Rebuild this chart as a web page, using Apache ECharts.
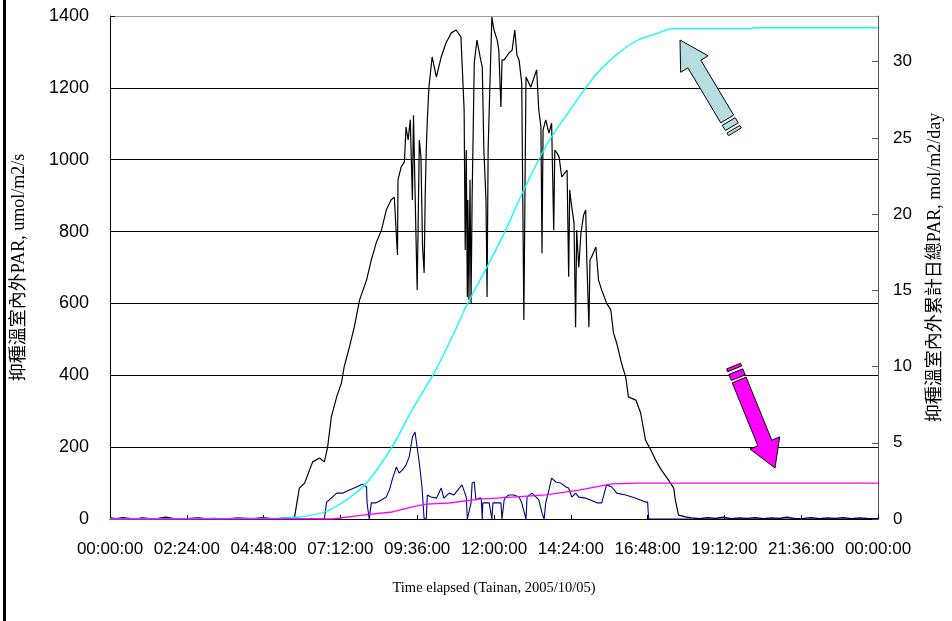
<!DOCTYPE html>
<html>
<head>
<meta charset="utf-8">
<script src="https://cdn.jsdelivr.net/npm/echarts@6/dist/echarts.min.js"></script>
<style>html,body{margin:0;padding:0;background:#fff}#c{width:952px;height:621px}</style>
</head>
<body>
<div id="c"></div>
<script>
// ---- data (time in minutes since 00:00) ----
const outsideT = [0,12,24,36,48,60,75,90,105,120,135,150,165,180,195,210,225,240,255,270,285,300,315,330,340,
346,349,355,365,374,380,393,402,408,415,425,434,439,449,458,468,481,490,499,509,518,527,533,539,540,546,552,555,559,563,567,569,574,576,580,583,586,589,591,593,595,598,604,612,621,630,640,649,658,664,666,668,670,671,673,675,677,679,683,688,694,698,701,705,707,709,711,716,720,726,729,733,735,739,748,754,759,763,767,772,774,776,778,780,789,800,804,808,810,812,817,823,828,832,834,838,842,847,857,860,862,864,870,873,875,879,883,888,892,894,898,900,903,911,916,922,931,939,944,950,959,967,972,986,995,1004,1014,1023,1034,1047,1057,1060,1066,1079,
1090,1105,1120,1135,1150,1165,1180,1195,1210,1225,1240,1255,1270,1285,1300,1315,1330,1345,1360,1375,1390,1405,1420,1440];
const outsideV = [3,1,4,2,0,3,1,2,5,1,0,2,3,1,2,0,1,3,2,1,4,2,1,3,2,
5,6,86,100,136,159,170,159,200,284,340,379,423,479,534,610,665,721,768,804,860,888,896,735,944,980,994,1091,1055,1111,888,1124,768,637,1055,1008,760,685,900,1027,1111,1202,1286,1230,1286,1325,1353,1361,1342,1138,749,1027,618,888,610,944,601,896,1269,1333,1286,1258,1027,888,618,1027,1138,1397,1361,1333,1305,1147,1278,1278,1297,1305,1361,1291,1278,1214,888,554,888,1230,1202,1250,1138,1091,740,1083,1111,1074,1102,804,1027,1019,1008,952,971,674,916,888,824,534,804,700,796,846,860,721,534,721,729,757,665,637,601,582,518,490,434,395,340,331,295,220,192,164,136,109,86,53,11,6,
3,1,4,2,5,1,3,2,4,1,3,2,5,1,2,4,1,3,2,4,1,3,2,1];

const insideT = [0,402,404,406,411,425,436,449,462,473,481,482,486,490,499,509,518,524,529,537,542,548,555,561,567,572,574,580,585,589,593,595,602,612,621,626,636,645,655,660,668,670,673,677,679,683,686,692,696,698,699,711,714,716,718,733,735,739,742,748,757,767,772,780,782,791,799,804,810,814,817,823,828,836,845,855,860,866,873,879,892,901,913,922,931,941,950,967,986,1004,1008,1010,1440];
const insideV = [0,0,0,47,53,72,72,81,89,97,89,45,0,45,45,53,61,81,109,145,128,136,150,173,228,242,220,156,89,0,0,67,61,58,86,58,72,67,86,95,61,0,0,45,100,103,53,58,58,0,45,45,45,0,45,45,0,53,61,67,67,61,45,0,61,72,61,53,17,0,45,81,114,103,100,89,86,61,72,61,58,53,45,45,95,89,72,67,58,47,47,0,0];

const cumOutT = [0,318,355,402,443,481,529,567,608,645,670,707,742,772,810,832,860,892,916,954,991,1029,1057,1203,1206,1440];
const cumOutV = [0,0.05,0.13,0.46,1.25,2.36,4.73,7.20,9.60,12.20,14.10,16.54,18.97,21.30,24.00,25.30,26.70,28.29,29.34,30.59,31.44,31.90,32.17,32.17,32.23,32.23];

const cumInT = [0,417,473,529,567,593,636,692,754,817,879,941,991,1440];
const cumInV = [0,0,0.26,0.46,0.79,0.98,1.05,1.31,1.44,1.58,1.90,2.30,2.36,2.36];

const rightTicks = [0,5,10,15,20,25,30];

const zip = (a, b) => a.map((t, i) => [t, b[i]]);
const fmtTime = m => {
  const mm = Math.round(m) % 1440;
  const h = Math.floor(mm / 60), mi = mm % 60;
  return String(h).padStart(2,'0') + ':' + String(mi).padStart(2,'0') + ':00';
};

// ---- arrow annotation helper ----
function arrow(tip, toward, headLen, headHalf, shaftHalf, shaftEnd, stripes, fill) {
  const dx = toward[0]-tip[0], dy = toward[1]-tip[1];
  const L = Math.hypot(dx, dy), ux = dx/L, uy = dy/L, nx = -uy, ny = ux;
  const P = (s, w) => [tip[0]+s*ux+w*nx, tip[1]+s*uy+w*ny];
  const style = {fill: fill, stroke: '#000', lineWidth: 1};
  const out = [{type:'polygon', shape:{points:[P(0,0),P(headLen,headHalf),P(headLen,shaftHalf),P(shaftEnd,shaftHalf),P(shaftEnd,-shaftHalf),P(headLen,-shaftHalf),P(headLen,-headHalf)]}, style: style, z: 100}];
  stripes.forEach(s => out.push({type:'polygon', shape:{points:[P(s[0],shaftHalf),P(s[1],shaftHalf),P(s[1],-shaftHalf),P(s[0],-shaftHalf)]}, style: style, z: 100}));
  return out;
}

const latin = "'Liberation Sans', Arial, sans-serif";
const nameFont = "'Liberation Serif', 'Noto Sans CJK TC', serif";

const chart = echarts.init(document.getElementById('c'), null, {renderer: 'canvas'});
chart.setOption({
  animation: false,
  backgroundColor: '#fff',
  grid: {left: 110, right: 72, top: 16, bottom: 102, containLabel: false},
  xAxis: {
    type: 'value', min: 0, max: 1440, interval: 144,
    name: 'Time elapsed (Tainan, 2005/10/05)', nameLocation: 'middle', nameGap: 62,
    nameTextStyle: {fontFamily: nameFont, fontSize: 14.5, color: '#000'},
    axisLine: {show: true, onZero: false, lineStyle: {color: '#000', width: 1}},
    axisTick: {show: true, inside: true, length: 4, lineStyle: {color: '#000'}},
    axisLabel: {fontFamily: latin, fontSize: 17, color: '#000', margin: 22, formatter: v => fmtTime(v)},
    splitLine: {show: false}
  },
  yAxis: [{
    type: 'value', min: 0, max: 1400, interval: 200, position: 'left',
    name: '抑種溫室內外PAR, umol/m2/s', nameLocation: 'middle', nameGap: 82, nameRotate: 90,
    nameTextStyle: {fontFamily: nameFont, fontSize: 18, color: '#000'},
    axisLine: {show: true, lineStyle: {color: '#000', width: 1}},
    axisTick: {show: true, inside: true, length: 5, lineStyle: {color: '#000'}},
    axisLabel: {fontFamily: latin, fontSize: 18, color: '#000', margin: 21, formatter: v => String(v)},
    splitLine: {show: true, lineStyle: {color: ['#000','#000','#000','#000','#000','#000','#000','#9a9a9a'], width: 1}}
  }, {
    type: 'value', min: 0, max: 33, interval: 5, position: 'right',
    name: '抑種溫室內外累計日總PAR, mol/m2/day', nameLocation: 'middle', nameGap: 48, nameRotate: 90,
    nameTextStyle: {fontFamily: nameFont, fontSize: 18, color: '#000'},
    axisLine: {show: true, lineStyle: {color: '#555', width: 1}},
    axisTick: {show: true, inside: true, length: 6, customValues: rightTicks, lineStyle: {color: '#555'}},
    axisLabel: {fontFamily: latin, fontSize: 17, color: '#000', margin: 15, customValues: rightTicks},
    splitLine: {show: false}
  }],
  series: [
    {name: 'outside', type: 'line', yAxisIndex: 0, data: zip(outsideT, outsideV), showSymbol: false, lineStyle: {color: '#000', width: 1.2}, z: 3},
    {name: 'inside', type: 'line', yAxisIndex: 0, data: zip(insideT, insideV), showSymbol: false, lineStyle: {color: '#000080', width: 1.1}, z: 4},
    {name: 'cumOutside', type: 'line', yAxisIndex: 1, data: zip(cumOutT, cumOutV), showSymbol: false, smooth: 0.3, lineStyle: {color: '#00ffff', width: 1.3}, z: 5},
    {name: 'cumInside', type: 'line', yAxisIndex: 1, data: zip(cumInT, cumInV), showSymbol: false, lineStyle: {color: '#ff00ff', width: 1.3}, z: 6}
  ],
  graphic: [
    {type: 'rect', shape: {x: 3, y: 0, width: 3, height: 621}, style: {fill: '#000'}, z: 100}
  ].concat(
    arrow([680, 40], [735, 132], 28, 16, 7.5, 92, [[95, 101], [104, 107]], '#b5dde2'),
    arrow([775, 468], [739, 379.5], 27, 16, 7.5, 95, [[97.5, 104], [107, 110]], '#ff00ff')
  )
});
</script>
</body>
</html>
